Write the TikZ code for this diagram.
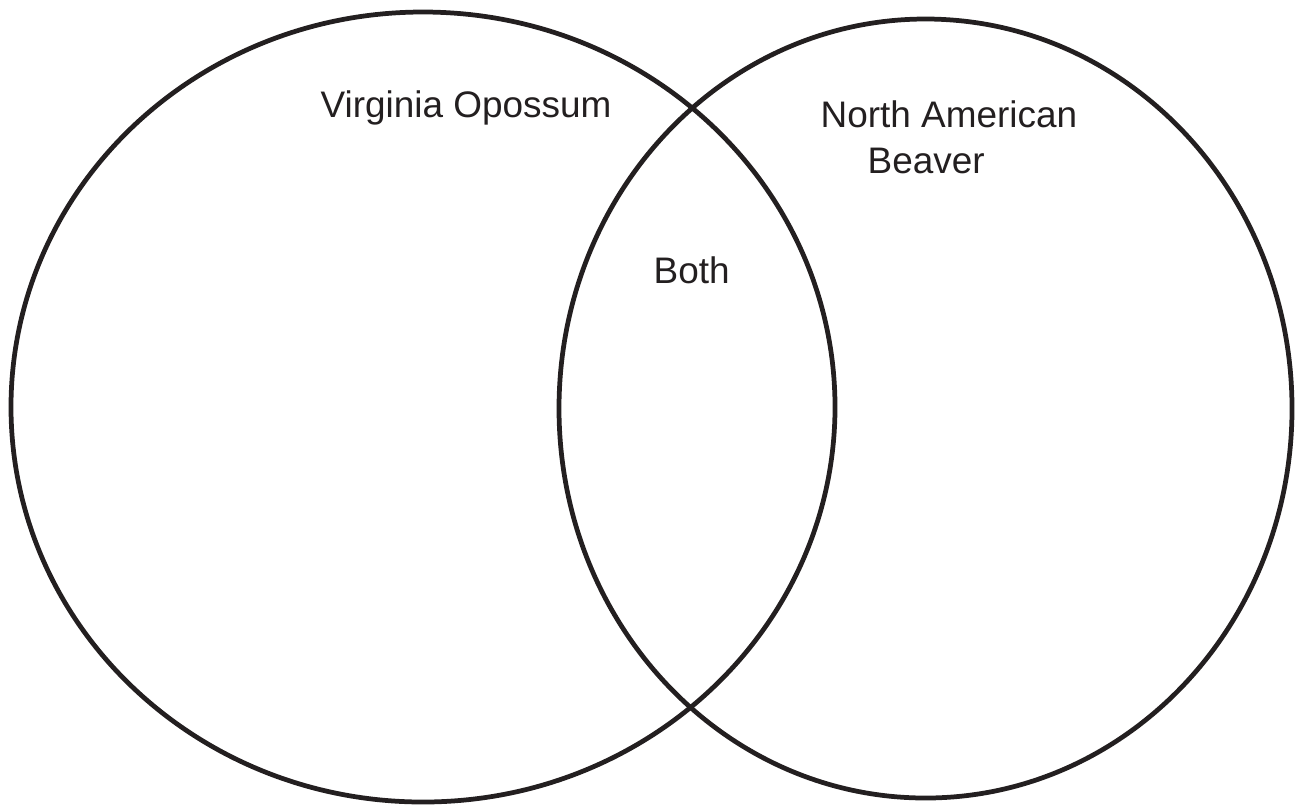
\documentclass[tikz,border=0pt]{standalone}
\usepackage{fontspec}
\setmainfont{Liberation Sans}
\definecolor{inkblack}{HTML}{231F20}
\tikzset{
  setline/.style={draw=inkblack, line width=1.35pt},
  setlabel/.style={anchor=base west, inner sep=0pt, text=inkblack, font=\fontsize{10.5}{13}\selectfont}
}
\begin{document}
\begin{tikzpicture}[x=0.01cm, y=-0.01cm]
            % Cadre
            \useasboundingbox (0,0) rectangle (1298,805);

            % Centres des deux ensembles
            \coordinate (L) at (423,407);
            \coordinate (R) at (925.5,408.5);

            % Ensembles
            \draw[setline] (L) ellipse [x radius=412, y radius=395];
            \draw[setline] (R) ellipse [x radius=366.5, y radius=389.5];

            % Etiquettes
            \node[setlabel] (opossum) at (320,117) {Virginia Opossum};
            \node[setlabel] (north) at (820,127) {North American};
            \node[setlabel] (beaver) at (867,173) {Beaver};
            \node[setlabel] (both) at (653,283) {Both};

\end{tikzpicture}
\end{document}
